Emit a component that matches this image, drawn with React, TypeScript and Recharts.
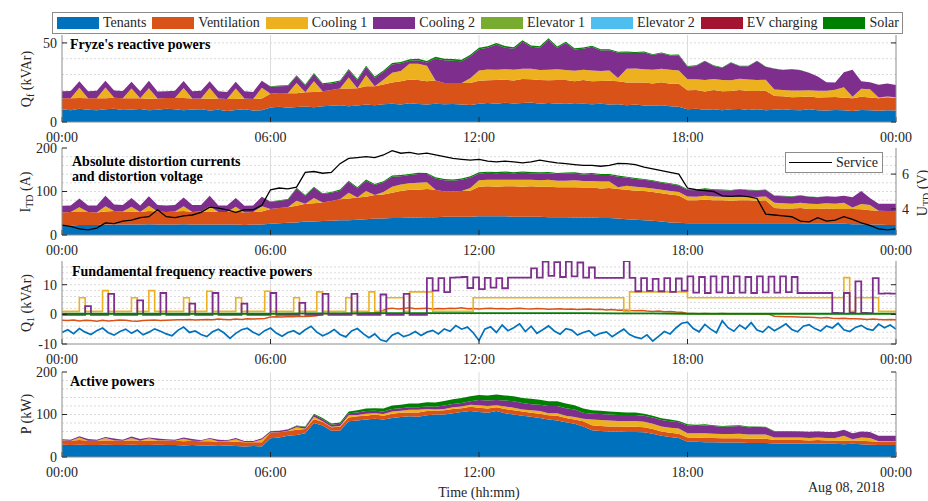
import React from "react";
import { ComposedChart, Area, Line, XAxis, YAxis, CartesianGrid } from "recharts";

const serif = "'Liberation Serif', 'Times New Roman', serif";
const AX = "#8c8c8c";
const INK = "#262626";

const timeTicks = [0, 6, 12, 18, 24];
const timeLabels = ["00:00", "06:00", "12:00", "18:00", "00:00"];

const seriesNames = ["Tenants", "Ventilation", "Cooling 1", "Cooling 2", "Elevator 1", "Elevator 2", "EV charging", "Solar"];
const seriesColors = ["#0072BD", "#D95319", "#EDB120", "#7E2F8E", "#77AC30", "#4DBEEE", "#A2142F", "#008000"];

// Fryze's reactive powers (kVAr), one value per 15 min
const tenantsQf = [
  8.0, 7.4, 8.3, 7.8, 7.5, 8.1, 8.4, 7.6, 7.9, 8.2, 7.4, 7.8, 8.3, 8.0, 7.5, 7.9, 8.1, 7.3, 7.8, 7.0, 7.6, 8.0, 7.2, 7.5,
  9.2, 9.6, 9.0, 9.5, 9.8, 9.4, 10.0, 10.2, 10.6, 10.0, 10.4, 11.0, 10.6, 11.2, 11.5, 11.0, 11.8, 11.4, 11.0, 11.6, 11.2, 11.4, 11.0, 10.8,
  11.5, 12.0, 11.6, 12.2, 11.7, 12.0, 12.3, 11.6, 12.0, 11.5, 11.9, 11.4, 11.6, 11.2, 11.5, 11.0, 11.2, 10.6, 11.0, 10.5, 10.2, 10.6, 10.0, 9.6,
  8.0, 8.4, 7.8, 8.1, 7.5, 8.0, 8.2, 7.6, 8.0, 7.5, 7.8, 8.1, 7.6, 7.4, 8.0, 7.5, 7.2, 7.6, 7.5, 7.0, 7.6, 7.4, 7.1, 7.5, 7.3,
];
const ventQf = [
  7.0, 7.6, 6.8, 7.2, 7.5, 6.9, 7.0, 7.4, 7.1, 6.8, 7.3, 7.0, 6.9, 7.2, 7.6, 7.0, 6.8, 7.4, 7.1, 7.5, 7.0, 6.8, 7.3, 7.4,
  8.6, 8.8, 9.2, 8.7, 9.0, 9.6, 9.4, 10.0, 10.6, 11.2, 11.0, 11.6, 12.0, 12.5, 13.5, 14.8, 15.0, 15.2, 14.8, 14.6, 13.4, 13.2, 13.6, 13.8,
  14.6, 14.4, 15.0, 14.6, 14.5, 15.2, 14.7, 15.0, 14.4, 15.1, 14.6, 14.4, 15.0, 14.6, 14.4, 15.0, 14.6, 14.4, 14.0, 14.5, 14.1, 14.6, 14.2, 14.6,
  12.0, 11.8, 11.5, 12.2, 11.9, 11.6, 12.1, 12.0, 11.6, 12.2, 8.6, 8.2, 8.0, 8.4, 8.1, 8.0, 8.5, 8.2, 7.9, 8.0, 8.4, 8.1, 7.9, 8.2, 7.8,
];
const cool1Qf = [
  0, 0, 6.5, 0, 0, 6.8, 0, 0, 6.2, 0, 6.6, 0, 0, 0, 6.4, 0, 0, 6.8, 0, 0, 6.5, 0, 0, 6.8,
  0, 0, 0, 6.5, 0, 6.8, 0, 0, 0, 7.0, 0, 7.0, 0, 3.0, 6.2, 6.4, 10.0, 10.2, 9.8, 0, 0, 0, 0, 3.0,
  6.5, 6.8, 6.4, 6.6, 6.9, 6.5, 6.7, 6.3, 6.6, 6.8, 6.4, 6.6, 6.5, 6.7, 6.3, 6.5, 2.0, 8.6, 8.8, 8.4, 8.7, 8.5, 8.8, 8.4,
  7.0, 6.8, 7.2, 6.9, 7.1, 6.8, 7.0, 7.2, 6.9, 7.0, 4.2, 4.0, 4.3, 4.1, 4.0, 4.2, 4.1, 4.6, 6.5, 1.0, 5.0, 5.2, 0.5, 0.4, 0.5,
];
const cool2Qf = [
  4.4, 4.6, 4.2, 4.5, 4.8, 4.3, 4.5, 4.6, 4.2, 4.4, 4.7, 4.5, 4.3, 4.6, 4.4, 4.5, 4.8, 4.2, 4.6, 4.4, 4.3, 4.7, 4.5, 4.4,
  4.5, 4.2, 4.6, 4.4, 4.3, 4.6, 4.5, 4.2, 4.4, 4.6, 5.0, 5.2, 5.3, 5.0, 5.2, 5.0, 2.0, 2.2, 2.0, 14.0, 14.5, 14.2, 13.8, 14.0,
  13.4, 13.8, 16.0, 13.6, 13.2, 17.0, 13.8, 14.0, 19.0, 13.6, 17.0, 13.4, 13.2, 15.0, 13.0, 12.8, 16.0, 10.2, 9.8, 10.6, 9.4, 9.8, 9.0, 9.6,
  8.0, 8.4, 12.0, 8.2, 7.8, 11.0, 8.0, 8.5, 12.0, 8.2, 13.0, 12.6, 13.4, 12.8, 11.0, 9.0, 5.4, 4.6, 9.6, 17.0, 4.8, 4.5, 8.0, 8.2, 7.8,
];
const solarQf = [
  0, 0, 0, 0, 0, 0, 0, 0, 0, 0, 0, 0, 0, 0, 0, 0, 0, 0, 0, 0, 0, 0, 0, 0,
  0.3, 0.4, 0.5, 0.5, 0.6, 0.5, 0.6, 0.7, 0.6, 0.7, 0.8, 0.7, 0.8, 0.8, 0.9, 0.8, 0.9, 1.0, 0.9, 1.0, 0.9, 1.0, 1.0, 0.9,
  1.0, 0.9, 1.0, 1.0, 0.9, 1.0, 0.9, 1.0, 0.9, 0.8, 0.9, 0.8, 0.8, 0.7, 0.8, 0.7, 0.6, 0.7, 0.6, 0.6, 0.5, 0.5, 0.5, 0.4,
  0.4, 0.4, 0.3, 0.4, 0.3, 0.3, 0.3, 0.3, 0.2, 0.2, 0.2, 0.2, 0.2, 0.2, 0.1, 0.1, 0, 0, 0, 0, 0, 0, 0, 0, 0,
];

// Absolute distortion currents (A) and service distortion voltage (V), one value per 15 min
const tenantsI = [
  22, 22, 23, 23, 23, 24, 24, 24, 24, 24, 25, 24, 24, 24, 25, 24, 24, 24, 24, 24, 24, 23, 24, 24,
  26, 27, 28, 29, 31, 31, 32, 33, 34, 34, 35, 36, 38, 38, 39, 39, 40, 40, 41, 41, 42, 42, 42, 42,
  43, 43, 43, 43, 42, 42, 42, 42, 41, 41, 41, 40, 40, 40, 39, 39, 38, 36, 35, 34, 33, 31, 29, 28,
  27, 27, 27, 27, 27, 27, 27, 27, 27, 27, 27, 27, 27, 27, 26, 26, 26, 26, 26, 25, 25, 24, 24, 23, 23,
];
const ventI = [
  30, 31, 30, 30, 29, 30, 31, 30, 30, 29, 30, 30, 29, 30, 30, 29, 30, 30, 29, 29, 30, 29, 29, 30,
  34, 35, 36, 38, 41, 42, 43, 45, 48, 50, 51, 52, 54, 55, 58, 62, 64, 64, 65, 63, 58, 58, 59, 60,
  68, 69, 68, 69, 70, 69, 70, 69, 70, 69, 69, 70, 69, 69, 68, 69, 68, 68, 67, 67, 66, 65, 64, 63,
  53, 53, 54, 53, 53, 52, 53, 53, 52, 53, 35, 34, 34, 35, 34, 34, 35, 34, 34, 35, 34, 33, 32, 32, 32,
];
const cool1I = [
  0, 0, 11, 0, 0, 12, 0, 0, 11, 0, 12, 0, 0, 0, 11, 0, 0, 12, 0, 0, 11, 0, 0, 12,
  0, 0, 0, 12, 0, 12, 0, 0, 0, 13, 0, 13, 0, 6, 14, 15, 15, 16, 15, 0, 0, 0, 0, 6,
  15, 15, 16, 15, 15, 16, 15, 15, 16, 15, 15, 16, 15, 15, 16, 15, 4, 9, 9, 8, 8, 8, 8, 8,
  8.5, 8, 9, 8.5, 8, 8.5, 9, 8, 8.5, 8.5, 12, 12, 11, 12, 12, 11, 12, 12, 14, 3, 12, 12, 0, 0, 0,
];
const cool2I = [
  15, 15, 20, 15, 16, 24, 15, 15, 20, 15, 22, 15, 15, 15, 20, 16, 15, 24, 15, 15, 20, 15, 15, 22,
  16, 17, 17, 28, 18, 24, 19, 19, 20, 26, 21, 24, 23, 22, 23, 19, 19, 20, 19, 26, 26, 25, 26, 24,
  15, 16, 15, 16, 15, 16, 15, 16, 15, 15, 16, 15, 15, 16, 15, 15, 24, 19, 18, 18, 17, 16, 16, 15,
  15, 15, 16, 15, 15, 15, 16, 15, 15, 15, 16, 16, 16, 17, 16, 16, 16, 16, 16, 24, 30, 16, 16, 17, 17,
];
const solarI = [
  0, 0, 0, 0, 0, 0, 0, 0, 0, 0, 0, 0, 0, 0, 0, 0, 0, 0, 0, 0, 0, 0, 0, 0,
  1, 1, 1.5, 1.5, 2, 2, 2, 2, 2.5, 2, 2.5, 2.5, 2, 2.5, 2.5, 3, 2.5, 3, 2.5, 3, 3, 2.5, 3, 3,
  3, 2.5, 3, 3, 2.5, 3, 3, 2.5, 3, 2.5, 2.5, 3, 2.5, 2.5, 2.5, 2, 2.5, 2, 2, 2, 2, 2, 2, 1.5,
  1.5, 1.5, 1.5, 1.5, 1.5, 1, 1, 1, 1, 1, 1, 1, 1, 0.5, 0.5, 0.5, 0, 0, 0, 0, 0, 0, 0, 0, 0,
];
const serviceU = [
  3.07, 3.0, 2.85, 2.8, 2.9, 3.2, 3.15, 3.3, 3.35, 3.5, 3.55, 3.95, 3.55, 3.5, 3.6, 3.65, 3.8, 4.1, 4.05, 3.95, 3.8, 3.95, 3.95, 4.2,
  5.1, 5.2, 5.15, 5.25, 6.1, 6.15, 6.05, 6.1, 6.6, 6.9, 6.95, 7.0, 6.95, 7.1, 7.35, 7.2, 7.25, 7.15, 7.2, 7.1, 7.0, 6.9, 6.85, 6.8,
  6.85, 6.75, 6.7, 6.75, 6.7, 6.65, 6.7, 6.8, 6.72, 6.65, 6.6, 6.55, 6.5, 6.5, 6.45, 6.5, 6.62, 6.6, 6.55, 6.4, 6.3, 6.2, 6.1, 6.0,
  5.2, 5.1, 5.05, 5.0, 4.75, 4.72, 4.75, 4.7, 4.6, 3.7, 3.65, 3.6, 3.55, 3.3, 3.25, 3.5, 3.3, 3.35, 3.55, 3.4, 3.2, 3.05, 2.85, 2.8, 2.85,
];

// Fundamental frequency reactive powers (kVAr), one value per 10 min
const tenantsQ1 = [
  -6.1, -5.2, -6.5, -4.8, -6.0, -6.8, -5.5, -4.6, -6.2, -7.0, -5.8, -5.0, -6.4, -5.3, -6.9, -6.0, -4.9, -5.7, -6.6, -7.2, -5.4, -4.3, -6.1, -5.6, -6.8, -7.5, -5.9, -5.0, -6.3, -8.1, -6.4, -5.2, -4.7, -6.0, -7.0, -5.5,
  -4.6, -6.3, -7.4, -6.1, -5.5, -6.7, -5.2, -4.0, -6.0, -7.2, -6.4, -5.1, -6.8, -7.6, -5.6, -4.8, -6.5, -7.9, -6.6, -8.6, -9.2, -7.0, -6.2, -7.5, -6.9, -5.8, -7.1, -6.0, -5.4, -6.6, -4.9, -5.7, -3.8, -5.0, -4.3, -6.2,
  -8.8, -5.0, -4.2, -6.1, -3.6, -5.5, -4.5, -3.2, -5.8, -4.0, -6.4, -5.2, -3.9, -5.6, -6.7, -4.8, -5.3, -7.0, -6.1, -5.5, -7.2, -6.4, -5.9, -7.5, -6.2, -5.0, -6.8, -7.7, -8.2, -6.9, -9.0, -7.4, -5.8, -6.6, -4.6, -3.0,
  -2.6, -4.8, -5.9, -3.4, -5.0, -6.2, -2.2, -4.5, -5.7, -3.6, -4.9, -2.8, -5.3, -6.0, -4.1, -5.5, -4.4, -3.2, -5.1, -5.9, -4.0, -3.5, -4.8, -5.6, -3.9, -4.6, -3.0, -5.2, -5.8, -4.4, -3.7, -4.9, -5.4, -3.3, -4.5, -3.6, -5.0,
];
const ventQ1 = [
  -2.0, -2.1, -1.9, -2.2, -2.0, -2.1, -2.3, -2.0, -2.2, -2.1, -1.9, -2.0, -2.2, -2.3, -2.1, -2.0, -1.9, -2.1, -2.0, -1.9, -1.8,
  -1.8, -1.7, -1.9, -1.8, -1.7, -1.8, -1.6, -1.7, -1.8, -1.6, -1.7, -1.5, -1.6, -1.5, -1.4,
  -0.9, -0.8, -0.9, -0.7, -0.8, -0.6, -0.7, -0.6, -0.5,
  0.2, 0.2, 0.3, 0.2, 0.3, 0.2, 0.3, 0.3, 0.4, 0.5, 0.8,
  1.9, 2.1, 1.8, 2.0, 2.2, 1.9, 2.0, 2.1, 1.8, 2.0, 1.9, 2.1, 2.0, 2.2, 1.9, 2.0, 1.8, 2.0, 2.1, 1.9,
  2.0, 1.8, 2.0, 2.1, 1.9, 1.8, 2.0, 1.9, 1.7, 1.8, 1.9, 1.7, 1.8, 1.6, 1.7, 1.8, 1.6, 1.7, 1.5, 1.6,
  1.4, 1.5, 1.3, 1.2, 1.3, 1.1, 1.0, 1.1, 0.9, 1.0, 0.8, 0.7,
  0.3, 0.3, 0.2, 0.3, 0.2, 0.2, 0.3, 0.2, 0.1, 0.2, 0.2, 0.1, 0.2, 0.1, 0.1,
  -0.6, -0.7, -0.8, -0.8, -0.9, -1.0, -1.0, -1.1, -1.2, -1.1, -1.3, -1.4, -1.3, -1.5, -1.5, -1.6, -1.7, -1.6, -1.7, -1.8, -1.7, -1.8,
];
const cool1Q1 = [
  1, 1, 1, 5.6, 1, 1, 1, 8.0, 1, 1, 1, 1,
  5.6, 1, 1, 8.0, 1, 1, 1, 1, 1, 5.6, 1, 1,
  1, 7.8, 1, 1, 1, 1, 5.6, 1, 1, 1, 1, 7.8,
  1, 1, 1, 1, 5.6, 1, 1, 1, 7.6, 1, 1, 1,
  1, 5.6, 1, 1, 1, 7.6, 1, 1, 5.6, 5.6, 5.6, 1,
  7.6, 7.6, 7.6, 7.6, 1, 1, 1, 1, 1, 1, 1, 5.6,
  5.6, 5.6, 5.6, 5.6, 5.6, 5.6, 5.6, 5.6, 5.6, 5.6, 5.6, 5.6,
  5.6, 5.6, 5.6, 5.6, 5.6, 5.6, 5.6, 5.6, 5.6, 5.6, 5.6, 5.6,
  5.6, 1, 7.6, 7.6, 7.6, 7.6, 7.6, 7.6, 7.6, 7.6, 7.6, 7.6,
  5.6, 5.6, 5.6, 5.6, 5.6, 5.6, 5.6, 5.6, 5.6, 5.6, 5.6, 5.6,
  5.6, 5.6, 5.6, 5.6, 5.6, 5.6, 5.6, 5.6, 5.6, 5.6, 5.6, 5.6,
  5.6, 5.6, 5.6, 12.4, 1, 5.6, 5.6, 5.6, 5.6, 1, 1, 1, 1,
];
const cool2Q1 = [
  -0.2, -0.2, -0.2, -0.2, 2.8, -0.2, -0.2, -0.2, 6.9, -0.2, -0.2, -0.2,
  -0.2, 4.7, -0.2, -0.2, -0.2, 7.2, -0.2, -0.2, -0.2, -0.2, 3.6, -0.2,
  -0.2, -0.2, 7.2, -0.2, -0.2, -0.2, -0.2, 3.6, -0.2, -0.2, -0.2, -0.2,
  7.2, -0.2, -0.2, -0.2, -0.2, 3.9, -0.2, -0.2, -0.2, 6.9, -0.2, -0.2,
  -0.2, -0.2, 6.9, -0.2, -0.2, -0.2, -0.2, 6.7, -0.2, -0.2, -0.2, 6.9,
  -0.2, -0.2, -0.2, 12.2, 8.0, 12.2, 7.5, 12.4, 12.5, 12.6, 8.9, 12.5,
  8.5, 12.3, 9.0, 12.2, 8.8, 12.4, 12.4, 12.4, 12.4, 15.5, 12.4, 17.8,
  13.0, 17.6, 12.6, 17.8, 12.8, 17.5, 12.4, 15.8, 12.3, 12.3, 12.3, 12.3,
  12.3, 18.0, 12.3, 7.8, 12.2, 7.9, 12.0, 7.8, 12.2, 7.6, 12.1, 8.0,
  12.8, 7.3, 12.6, 7.2, 12.8, 7.4, 12.7, 7.2, 12.8, 7.3, 12.6, 7.2,
  12.8, 7.4, 12.7, 7.3, 12.8, 7.5, 12.6, 7.2, 7.2, 7.2, 7.2, 7.2,
  7.2, 0.5, 0.4, 7.2, 0.5, 11.1, 0.5, 0.4, 12.2, 7.0, 7.1, 7.0, 7.1,
];
// hourly
const solarQ1 = [0.2, 0.2, 0.2, 0.2, 0.2, 0.2, 0.2, 0.3, 0.3, 0.4, 0.4, 0.4, 0.4, 0.4, 0.4, 0.4, 0.3, 0.3, 0.2, 0.2, 0.2, 0.2, 0.2, 0.2, 0.2];

// Active powers (kW), one value per 15 min
const tenantsP = [
  29, 28, 29, 28, 28, 29, 28, 28, 29, 28, 28, 29, 28, 28, 27, 28, 27, 27, 26, 27, 26, 25, 26, 25,
  44, 46, 50, 52, 56, 80, 74, 62, 62, 84, 86, 88, 90, 88, 92, 94, 96, 95, 98, 100, 100, 103, 106, 108,
  106, 104, 108, 103, 100, 97, 95, 92, 88, 86, 82, 78, 72, 63, 61, 60, 60, 59, 59, 58, 55, 50, 47, 45,
  36, 36, 35, 35, 34, 34, 34, 33, 33, 33, 32, 32, 32, 32, 31, 32, 31, 31, 30, 31, 30, 29, 28, 28, 28,
];
const ventP = [
  10, 10, 11, 10, 10, 10, 11, 10, 10, 10, 10, 10, 11, 10, 10, 10, 10, 10, 10, 10, 10, 10, 9, 10,
  13, 12, 11, 12, 10, 9, 9, 8, 9, 9, 10, 9, 10, 9, 10, 10, 9, 10, 10, 9, 10, 10, 9, 10,
  10, 10, 9, 10, 10, 10, 9, 10, 10, 11, 10, 10, 12, 12, 12, 12, 12, 12, 12, 12, 11, 10, 10, 10,
  10, 10, 10, 10, 10, 10, 10, 10, 10, 10, 8, 8, 8, 8, 8, 8, 8, 8, 8, 8, 8, 8, 8, 8, 8,
];
const cool1P = [
  0.5, 0.5, 6, 0.5, 0.5, 6, 0.5, 0.5, 6, 0.5, 6, 0.5, 0.5, 0.5, 6, 0.5, 0.5, 6, 0.5, 0.5, 6, 0.5, 0.5, 6,
  0.5, 0.5, 0.5, 6, 0.5, 6, 1, 1, 2, 5, 3, 5, 3, 4, 5, 5, 6, 6, 5, 3, 3, 4, 4, 5,
  6, 6, 5, 6, 6, 5, 6, 6, 5, 6, 5, 6, 6, 13, 14, 14, 13, 14, 14, 13, 12, 12, 12, 12,
  10, 10, 11, 10, 10, 10, 11, 10, 10, 10, 6, 6, 6, 6, 6, 6, 6, 6, 12, 3, 8, 8, 1, 1, 1,
];
const cool2P = [
  2, 2, 3, 4, 2, 2, 4, 2, 3, 4, 2, 4, 2, 2, 3, 4, 2, 2, 4, 2, 3, 2, 2, 3,
  3, 3, 3, 3, 4, 5, 5, 5, 5, 5, 6, 6, 6, 6, 6, 6, 6, 6, 6, 6, 8, 8, 8, 8,
  12, 13, 12, 14, 15, 15, 14, 15, 17, 17, 18, 18, 14, 14, 14, 14, 14, 14, 14, 14, 15, 15, 15, 15,
  18, 17, 18, 18, 17, 18, 18, 17, 18, 17, 14, 14, 14, 14, 14, 14, 14, 14, 14, 14, 14, 14, 13, 13, 13,
];
const solarP = [
  0, 0, 0, 0, 0, 0, 0, 0, 0, 0, 0, 0, 0, 0, 0, 0, 0, 0, 0, 0, 0, 0, 0, 0,
  0.5, 0.5, 1, 1, 1.5, 2, 2.5, 3, 3, 4, 5, 6, 6, 7, 8, 8, 9, 9, 10, 10, 11, 11, 12, 12,
  12, 12, 13, 12, 12, 12, 13, 12, 11, 11, 11, 10, 10, 8, 8, 7, 7, 6, 6, 5, 4, 4, 4, 3,
  3, 3, 3, 2, 2, 2, 2, 2, 1, 1, 1, 1, 1, 0.5, 0.5, 0.5, 0, 0, 0, 0, 0, 0, 0, 0, 0,
];

function buildRows(step: number, cols: Record<string, number[]>) {
  const keys = Object.keys(cols);
  return cols[keys[0]].map((_, i) => {
    const row: Record<string, number> = { t: i * step };
    keys.forEach((k) => (row[k] = cols[k][i]));
    return row;
  });
}

const stackKeys = ["tenants", "ventilation", "cooling1", "cooling2", "solar"];
const stackColors = [seriesColors[0], seriesColors[1], seriesColors[2], seriesColors[3], seriesColors[7]];

const rowsQf = buildRows(0.25, { tenants: tenantsQf, ventilation: ventQf, cooling1: cool1Qf, cooling2: cool2Qf, solar: solarQf });
const rowsI = buildRows(0.25, { tenants: tenantsI, ventilation: ventI, cooling1: cool1I, cooling2: cool2I, solar: solarI, service: serviceU });
const rowsQ1 = buildRows(1 / 6, { tenants: tenantsQ1, ventilation: ventQ1, cooling1: cool1Q1, cooling2: cool2Q1 });
const rowsSolarQ1 = solarQ1.map((v, h) => ({ t: h, v }));
const rowsP = buildRows(0.25, { tenants: tenantsP, ventilation: ventP, cooling1: cool1P, cooling2: cool2P, solar: solarP });

const tickFont = { fill: INK, fontSize: 14, fontFamily: serif };
const fmtTime = (v: number) => timeLabels[timeTicks.indexOf(v)] ?? "";

function frame(domain: [number, number], ticks: number[], grid: number[], withRight = true) {
  return [
    <CartesianGrid key="gh" vertical={false} horizontalValues={grid} stroke="#dadada" strokeDasharray="2 2" />,
    <CartesianGrid key="gv" horizontal={false} verticalValues={[6, 12, 18]} stroke="#dcdcdc" />,
    <XAxis key="xb" dataKey="t" type="number" domain={[0, 24]} ticks={timeTicks} tickFormatter={fmtTime} interval={0}
      height={24} tickSize={-5} tickMargin={15} axisLine={{ stroke: AX }} tickLine={{ stroke: INK }} tick={tickFont} allowDataOverflow />,
    <XAxis key="xt" xAxisId="top" orientation="top" dataKey="t" type="number" domain={[0, 24]} ticks={timeTicks}
      tickFormatter={() => ""} interval={0} height={0} tickSize={-5} axisLine={{ stroke: AX }} tickLine={{ stroke: INK }} allowDataOverflow />,
    <YAxis key="yl" domain={domain} ticks={ticks} width={62} tickSize={-5} tickMargin={10} interval={0}
      axisLine={{ stroke: AX }} tickLine={{ stroke: INK }} tick={tickFont} allowDataOverflow />,
    withRight ? (
      <YAxis key="yr" yAxisId="right" orientation="right" domain={domain} ticks={ticks} width={32} tickSize={-5}
        tickFormatter={() => ""} interval={0} axisLine={{ stroke: AX }} tickLine={{ stroke: INK }} allowDataOverflow />
    ) : null,
  ];
}

function stack() {
  return stackKeys.map((k, i) => (
    <Area key={k} type="linear" dataKey={k} stackId="s" stroke="none" fill={stackColors[i]} fillOpacity={1}
      dot={false} activeDot={false} isAnimationActive={false} />
  ));
}

const margin = { top: 8, right: 0, bottom: 0, left: 0 };

export default function App() {
  return (
    <div style={{ position: "absolute", left: 0, top: 0, width: 928, height: 501, background: "#fff", overflow: "hidden" }}>
      <div style={{ position: "absolute", left: 0, top: 27 }}>
        <ComposedChart width={928} height={119} data={rowsQf} margin={margin}>
          {frame([0, 55], [0, 50], [10, 20, 30, 40, 50])}
          {stack()}
        </ComposedChart>
      </div>

      <div style={{ position: "absolute", left: 0, top: 140 }}>
        <ComposedChart width={928} height={119} data={rowsI} margin={margin}>
          {frame([0, 200], [0, 100, 200], [20, 40, 60, 80, 100, 120, 140, 160, 180], false)}
          <YAxis yAxisId="right" orientation="right" domain={[2.5, 7.5]} ticks={[4, 6]} width={32} tickSize={-5} tickMargin={11}
            interval={0} axisLine={{ stroke: AX }} tickLine={{ stroke: INK }} tick={tickFont} allowDataOverflow />
          {stack()}
          <Line yAxisId="right" type="linear" dataKey="service" stroke="#000" strokeWidth={1.3} dot={false} activeDot={false} isAnimationActive={false} />
        </ComposedChart>
      </div>

      <div style={{ position: "absolute", left: 0, top: 253 }}>
        <ComposedChart width={928} height={115} data={rowsQ1} margin={margin}>
          {frame([-10, 18], [-10, 0, 10], [-8, -6, -4, -2, 0, 2, 4, 6, 8, 10, 12, 14, 16])}
          <Line type="linear" dataKey="tenants" stroke={seriesColors[0]} strokeWidth={1.7} dot={false} activeDot={false} isAnimationActive={false} />
          <Line type="linear" dataKey="ventilation" stroke={seriesColors[1]} strokeWidth={1.5} dot={false} activeDot={false} isAnimationActive={false} />
          <Line type="stepAfter" dataKey="cooling1" stroke={seriesColors[2]} strokeWidth={1.6} dot={false} activeDot={false} isAnimationActive={false} />
          <Line type="stepAfter" dataKey="cooling2" stroke={seriesColors[3]} strokeWidth={1.8} dot={false} activeDot={false} isAnimationActive={false} />
          <Line data={rowsSolarQ1} type="linear" dataKey="v" stroke={seriesColors[7]} strokeWidth={1.8} dot={false} activeDot={false} isAnimationActive={false} />
        </ComposedChart>
      </div>

      <div style={{ position: "absolute", left: 0, top: 364 }}>
        <ComposedChart width={928} height={117} data={rowsP} margin={margin}>
          {frame([0, 200], [0, 100, 200], [20, 40, 60, 80, 100, 120, 140, 160, 180])}
          {stack()}
        </ComposedChart>
      </div>

      <svg width={928} height={501} style={{ position: "absolute", left: 0, top: 0, pointerEvents: "none" }} fontFamily={serif}>
        <g fontWeight="bold" fontSize={14} fill="#000">
          <text x={70} y={49}>Fryze's reactive powers</text>
          <text x={72} y={166}>Absolute distortion currents</text>
          <text x={72} y={181}>and distortion voltage</text>
          <text x={72} y={276}>Fundamental frequency reactive powers</text>
          <text x={70} y={386}>Active powers</text>
        </g>
        <g fontSize={14} fill={INK} textAnchor="middle">
          <text transform="translate(31,79) rotate(-90)">
            <tspan>Q</tspan><tspan dy={3} fontSize={10}>f</tspan><tspan dy={-3}> (kVAr)</tspan>
          </text>
          <text transform="translate(30,192) rotate(-90)">
            <tspan>I</tspan><tspan dy={3} fontSize={10}>TD</tspan><tspan dy={-3}> (A)</tspan>
          </text>
          <text transform="translate(31,303) rotate(-90)">
            <tspan>Q</tspan><tspan dy={3} fontSize={10}>1</tspan><tspan dy={-3}> (kVAr)</tspan>
          </text>
          <text transform="translate(31,414) rotate(-90)">P (kW)</text>
          <text transform="translate(927,193) rotate(-90)">
            <tspan>U</tspan><tspan dy={3} fontSize={10}>TD</tspan><tspan dy={-3}> (V)</tspan>
          </text>
          <text x={479} y={497}>Time (hh:mm)</text>
        </g>
        <text x={808} y={492} fontSize={14} fill={INK}>Aug 08, 2018</text>
      </svg>

      <div style={{ position: "absolute", left: 785, top: 152, width: 98, height: 21, boxSizing: "border-box", border: `1px solid ${AX}`,
        background: "#fff", display: "flex", alignItems: "center", fontFamily: serif, fontSize: 14, color: INK }}>
        <div style={{ width: 43, height: 0, borderTop: "1.5px solid #000", marginLeft: 3, marginRight: 4 }} />
        <span>Service</span>
      </div>

      <div style={{ position: "absolute", left: 52, top: 12, width: 851, height: 22, boxSizing: "border-box", border: `1px solid ${AX}`,
        background: "#fff", display: "flex", alignItems: "center", justifyContent: "space-between", padding: "0 3px 0 4px",
        fontFamily: serif, fontSize: 14, color: INK }}>
        {seriesNames.map((n, i) => (
          <div key={n} style={{ display: "flex", alignItems: "center" }}>
            <span style={{ display: "inline-block", width: 42, height: 12, background: seriesColors[i], marginRight: 4 }} />
            <span>{n}</span>
          </div>
        ))}
      </div>
    </div>
  );
}
